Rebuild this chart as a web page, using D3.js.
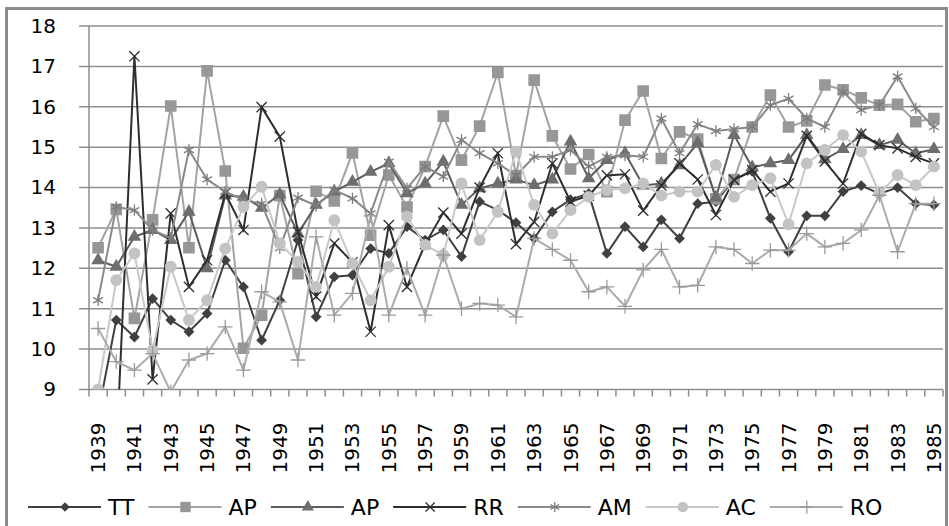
<!DOCTYPE html>
<html>
<head>
<meta charset="utf-8">
<script src="https://cdn.jsdelivr.net/npm/d3@7"></script>
<style>
  body { margin: 0; background: #fff; }
  text { font-family: "DejaVu Sans", sans-serif; fill: #000; }
</style>
</head>
<body>
<svg id="chart" width="949" height="526"></svg>
<script>
// years on the category axis
var years = d3.range(1939, 1986);
var yTicks = [9, 10, 11, 12, 13, 14, 15, 16, 17, 18];
var seriesNames = ["TT", "AP", "AP", "RR", "AM", "AC", "RO"];

var tt = [8.4, 10.72, 10.3, 11.25, 10.72, 10.43, 10.88, 12.2, 11.54, 10.22, 11.21, 12.7, 10.8, 11.79, 11.83, 12.49, 12.37, 13.03, 12.7, 12.95, 12.29, 13.65, 13.44, 13.13, 12.74, 13.4, 13.7, 13.85, 12.37, 13.03, 12.53, 13.2, 12.74, 13.6, 13.65, 14.2, 14.4, 13.24, 12.41, 13.3, 13.3, 13.9, 14.05, 13.85, 14.0, 13.6, 13.57];
var apSquare = [12.51, 13.46, 10.76, 13.2, 16.02, 12.51, 16.89, 14.41, 10.02, 10.84, 13.8, 11.87, 13.91, 13.67, 14.86, 12.82, 14.31, 13.52, 14.52, 15.77, 14.68, 15.52, 16.85, 14.3, 16.66, 15.28, 14.46, 14.82, 13.9, 15.67, 16.39, 14.72, 15.38, 15.2, 13.72, 14.2, 15.5, 16.29, 15.5, 15.65, 16.54, 16.42, 16.22, 16.04, 16.06, 15.63, 15.71];
var apTriangle = [12.2, 12.04, 12.78, 12.95, 12.7, 13.4, 12.0, 13.8, 13.77, 13.5, 13.83, 12.86, 13.57, 13.9, 14.14, 14.39, 14.6, 13.86, 14.1, 14.64, 13.57, 13.98, 14.1, 14.2, 14.06, 14.2, 15.14, 14.23, 14.68, 14.85, 14.05, 14.1, 14.55, 15.1, 13.75, 15.3, 14.5, 14.6, 14.68, 15.3, 14.7, 14.95, 15.3, 15.05, 15.18, 14.85, 14.95];
var rr = [8.0, 7.4, 17.25, 9.25, 13.36, 11.54, 12.2, 13.86, 12.95, 15.99, 15.26, 12.9, 11.3, 12.62, 12.15, 10.43, 13.07, 11.54, 12.6, 13.38, 12.86, 14.0, 14.85, 12.6, 13.15, 14.6, 13.65, 13.8, 14.3, 14.33, 13.43, 14.05, 14.6, 14.2, 13.32, 14.19, 14.43, 13.9, 14.1, 15.28, 14.65, 14.1, 15.33, 15.05, 14.97, 14.76, 14.6];
var am = [11.21, 13.52, 13.44, 12.95, 12.75, 14.93, 14.2, 13.9, 13.7, 13.6, 12.5, 13.75, 13.55, 13.94, 13.73, 13.36, 14.64, 13.98, 14.52, 14.27, 15.18, 14.85, 14.6, 14.3, 14.76, 14.76, 14.93, 14.52, 14.76, 14.8, 14.76, 15.71, 14.85, 15.57, 15.4, 15.45, 15.5, 16.04, 16.2, 15.71, 15.5, 16.37, 15.92, 16.04, 16.75, 15.96, 15.5];
var ac = [9.0, 11.71, 12.37, 9.97, 12.04, 10.72, 11.21, 12.49, 13.52, 14.02, 12.62, 12.16, 11.54, 13.19, 12.12, 11.21, 12.04, 13.28, 12.58, 12.33, 14.1, 12.7, 13.4, 14.89, 13.57, 12.86, 13.44, 13.77, 13.94, 13.98, 14.1, 13.8, 13.9, 13.9, 14.56, 13.77, 14.06, 14.23, 13.09, 14.6, 14.93, 15.3, 14.89, 13.86, 14.31, 14.06, 14.52];
var ro = [10.51, 9.69, 9.48, 9.89, 8.94, 9.73, 9.89, 10.55, 9.48, 11.42, 11.17, 9.73, 12.78, 10.84, 11.38, 13.3, 10.84, 12.0, 10.84, 12.33, 11.0, 11.13, 11.09, 10.8, 12.74, 12.47, 12.2, 11.42, 11.54, 11.06, 11.96, 12.47, 11.54, 11.58, 12.53, 12.47, 12.12, 12.45, 12.45, 12.86, 12.53, 12.62, 12.95, 13.81, 12.41, 13.6, 13.6];

var allValues = [tt, apSquare, apTriangle, rr, am, ac, ro];

var styles = [
  { line: "#404040", fill: "#404040", stroke: null, sym: d3.symbolSquare, size: 58, rot: 45 },
  { line: "#a3a3a3", fill: "#979797", stroke: null, sym: d3.symbolSquare, size: 135, rot: 0 },
  { line: "#5c5c5c", fill: "#6e6e6e", stroke: null, sym: d3.symbolTriangle, size: 80, rot: 0 },
  { line: "#2e2e2e", fill: "none", stroke: "#2e2e2e", sym: d3.symbolTimes || d3.symbolX, size: 70, rot: 0 },
  { line: "#8a8a8a", fill: "none", stroke: "#7c7c7c", sym: d3.symbolAsterisk, size: 90, rot: 0 },
  { line: "#c8c8c8", fill: "#c3c3c3", stroke: null, sym: d3.symbolCircle, size: 110, rot: 0 },
  { line: "#ababab", fill: "none", stroke: "#9a9a9a", sym: d3.symbolPlus, size: 70, rot: 0 }
];

var svg = d3.select("#chart");
var plotLeft = 89, plotRight = 943, plotTop = 26, plotBottom = 389.5;

// chart frame
svg.append("rect")
  .attr("x", 6.5).attr("y", 8.5)
  .attr("width", 940).attr("height", 530)
  .attr("fill", "none").attr("stroke", "#8c8c8c").attr("stroke-width", 3);

var x = d3.scaleBand().domain(years).range([plotLeft, plotRight]).padding(0);
var y = d3.scaleLinear().domain([9, 18]).range([plotBottom, plotTop]);

// horizontal gridlines
svg.append("g").selectAll("line")
  .data(yTicks)
  .join("line")
  .attr("x1", plotLeft - 10).attr("x2", plotRight)
  .attr("y1", d => y(d)).attr("y2", d => y(d))
  .attr("stroke", "#8e8e8e").attr("stroke-width", 1.5);

// y axis line
svg.append("line")
  .attr("x1", plotLeft).attr("x2", plotLeft)
  .attr("y1", plotTop).attr("y2", plotBottom)
  .attr("stroke", "#8e8e8e").attr("stroke-width", 1.5);

// y labels
var yAxis = svg.append("g")
  .attr("transform", "translate(" + (plotLeft - 33) + ",0)")
  .call(d3.axisLeft(y).tickValues(yTicks).tickSize(0).tickPadding(0));
yAxis.select(".domain").remove();
yAxis.selectAll("text")
  .style("font-size", "20px")
  .style("font-family", "DejaVu Sans, sans-serif")
  .attr("fill", "#000");

// x tick marks at category boundaries
var bounds = years.map(d => x(d)).concat([plotRight]);
svg.append("g").selectAll("line")
  .data(bounds)
  .join("line")
  .attr("x1", d => d).attr("x2", d => d)
  .attr("y1", plotBottom).attr("y2", plotBottom + 7)
  .attr("stroke", "#8e8e8e").attr("stroke-width", 1.5);

// x labels, every second year, rotated
var xAxis = svg.append("g")
  .attr("transform", "translate(0," + plotBottom + ")")
  .call(d3.axisBottom(x).tickValues(years.filter((d, i) => i % 2 === 0)).tickSize(0));
xAxis.select(".domain").remove();
xAxis.selectAll("text")
  .style("font-size", "20px")
  .style("font-family", "DejaVu Sans, sans-serif")
  .attr("fill", "#000")
  .attr("text-anchor", "end")
  .attr("dy", "0.35em")
  .attr("y", 0)
  .attr("transform", "translate(0,33) rotate(-90)");

// plot clip
svg.append("clipPath").attr("id", "plotClip")
  .append("rect")
  .attr("x", plotLeft).attr("y", plotTop - 12)
  .attr("width", plotRight - plotLeft).attr("height", plotBottom - plotTop + 12);

var cx = d => x(d) + x.bandwidth() / 2;
var line = d3.line()
  .x((d, i) => cx(years[i]))
  .y(d => y(d));

var plot = svg.append("g").attr("clip-path", "url(#plotClip)");

allValues.forEach(function(vals, s) {
  var st = styles[s];
  var g = plot.append("g");
  g.append("path")
    .datum(vals)
    .attr("d", line)
    .attr("fill", "none")
    .attr("stroke", st.line)
    .attr("stroke-width", 2);

  var sym = d3.symbol().type(st.sym).size(st.size);
  g.selectAll("path.pt")
    .data(vals)
    .join("path")
    .attr("class", "pt")
    .attr("d", sym)
    .attr("transform", (d, i) => "translate(" + cx(years[i]) + "," + y(d) + ") rotate(" + st.rot + ")")
    .attr("fill", st.fill)
    .attr("stroke", st.stroke || "none")
    .attr("stroke-width", 1.3);
});

// legend
var legend = svg.append("g").attr("transform", "translate(0,507)");
var lx = 28;
seriesNames.forEach(function(name, s) {
  var st = styles[s];
  var item = legend.append("g").attr("transform", "translate(" + lx + ",0)");
  item.append("line")
    .attr("x1", 0).attr("x2", 73)
    .attr("y1", 0).attr("y2", 0)
    .attr("stroke", st.line).attr("stroke-width", 2);
  item.append("path")
    .attr("d", d3.symbol().type(st.sym).size(st.size * 0.8)())
    .attr("transform", "translate(37,0) rotate(" + st.rot + ")")
    .attr("fill", st.fill)
    .attr("stroke", st.stroke || "none")
    .attr("stroke-width", 1.3);
  var t = item.append("text")
    .attr("x", 80).attr("y", 0)
    .attr("dy", "0.36em")
    .style("font-size", "22px")
    .text(name);
  lx += 80 + t.node().getComputedTextLength() + 14;
});
</script>
</body>
</html>
